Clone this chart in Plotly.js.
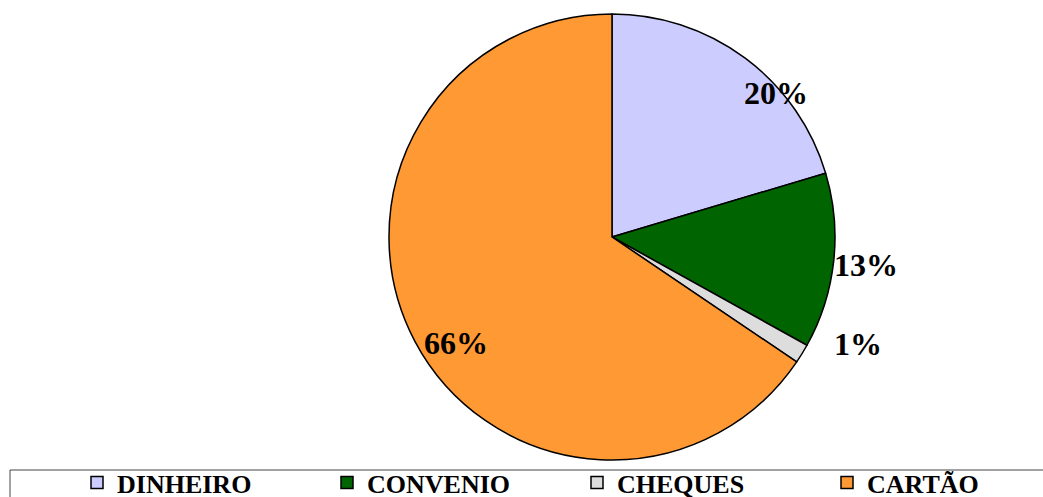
<!DOCTYPE html>
<html>
<head>
<meta charset="utf-8">
<script src="https://cdn.plot.ly/plotly-3.0.1.min.js"></script>
<style>
  html, body { margin: 0; padding: 0; background: #fff; }
  #chart { width: 1043px; height: 497px; }
</style>
</head>
<body>
<div id="chart"></div>
<script>
var labels = ['DINHEIRO', 'CONVENIO', 'CHEQUES', 'CARTÃO'];
var values = [20.4, 12.7, 1.4, 65.6];
var colors = ['#ccccff', '#006400', '#dddddd', '#ff9933'];

// label placement (degrees off the slice middle, radius factor)
var labelShift = [12, 0, -8, -6.3];
var labelRadius = [0.98, 1.145, 1.205, 0.846];

var W = 1043, H = 497;
var mt = 14, mb = 0;
var plotH = H - mt - mb;
var cx = 612, cy = 237, R = 223;

var total = values.reduce(function (a, b) { return a + b; }, 0);
var annotations = [];
var cum = 0;
for (var i = 0; i < values.length; i++) {
    var mid = (cum + values[i] / 2) / total * 360 + labelShift[i];
    cum += values[i];
    var a = mid * Math.PI / 180;
    var px = cx + R * labelRadius[i] * Math.sin(a);
    var py = cy - R * labelRadius[i] * Math.cos(a);
    annotations.push({
        xref: 'paper', yref: 'paper',
        x: px / W, y: (H - mb - py) / plotH,
        xanchor: 'center', yanchor: 'middle',
        showarrow: false,
        text: Math.round(values[i] / total * 100) + '%',
        font: {family: 'Liberation Serif', size: 32, color: '#000', weight: 'bold'}
    });
}

var trace = {
    type: 'pie',
    labels: labels,
    values: values,
    sort: false,
    direction: 'clockwise',
    rotation: 0,
    textinfo: 'none',
    hoverinfo: 'label+percent',
    marker: {colors: colors, line: {color: '#000', width: 1.5}},
    domain: {
        x: [(cx - R) / W, (cx + R) / W],
        y: [(H - mb - (cy + R)) / plotH, 1]
    }
};

var layout = {
    width: W,
    height: H,
    margin: {l: 0, r: 0, t: mt, b: mb, autoexpand: false},
    paper_bgcolor: '#fff',
    showlegend: true,
    legend: {
        orientation: 'h',
        x: 77 / W,
        xanchor: 'left',
        y: (H - 459) / plotH,
        yanchor: 'top',
        entrywidth: 205,
        bgcolor: 'rgba(0,0,0,0)',
        borderwidth: 0,
        font: {family: 'Liberation Serif', size: 26, color: '#000', weight: 'bold'}
    },
    shapes: [{
        type: 'rect', xref: 'paper', yref: 'paper',
        x0: 10 / W, x1: 1.02,
        y0: (H - 470) / plotH, y1: -0.05,
        line: {color: '#444', width: 1}
    }],
    annotations: annotations
};

Plotly.newPlot('chart', [trace], layout, {displayModeBar: false, staticPlot: true});
</script>
</body>
</html>
